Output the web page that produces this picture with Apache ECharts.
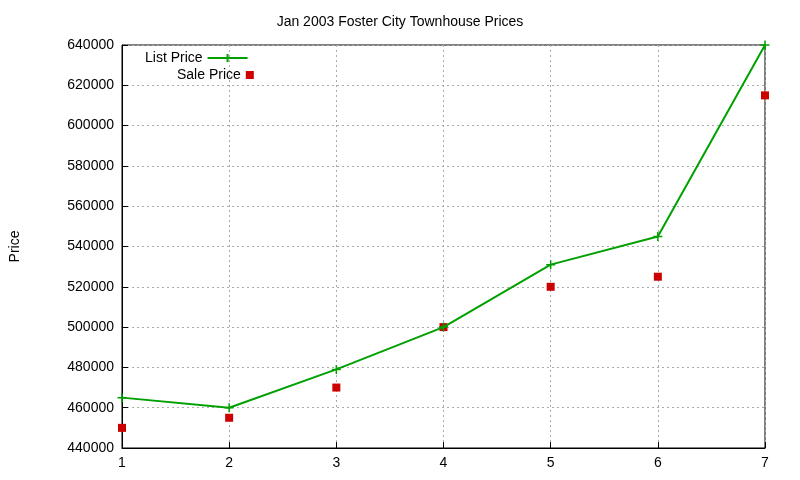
<!DOCTYPE html>
<html><head><meta charset="utf-8">
<script src="https://cdn.jsdelivr.net/npm/echarts@6/dist/echarts.min.js"></script>
<style>html,body{margin:0;padding:0;background:#fff}#c{width:800px;height:480px}</style>
</head><body><div id="c"></div>
<script>
const xs = [1,2,3,4,5,6,7];
const listPrice = [465000,460000,479000,500000,531000,545000,640000];
const salePrice = [450000,455000,470000,500000,520000,525000,615000];
const chart = echarts.init(document.getElementById('c'));
const font = 'Liberation Sans, Arial, sans-serif';
const split = {show:true,lineStyle:{color:'#aaa',type:[2,3],width:1}};
const lt = {fontFamily:font,fontSize:14,color:'#000'};
chart.setOption({
  animation:false,
  title:{text:'Jan 2003 Foster City Townhouse Prices',left:'center',top:10,
    textStyle:{fontFamily:font,fontSize:14,fontWeight:'normal',color:'#000'}},
  legend:[
    {left:140,top:46,align:'right',itemWidth:40,itemHeight:10,textStyle:lt,data:[{name:'List Price'}]},
    {left:172,top:63,align:'right',itemWidth:8,itemHeight:8,textStyle:lt,data:[{name:'Sale Price',icon:'rect'}]}
  ],
  grid:{left:119,right:35,top:45,bottom:32,show:true,borderColor:'#000',borderWidth:1},
  xAxis:{type:'value',min:1,max:7,interval:1,
    axisLine:{lineStyle:{color:'#000'}},axisTick:{inside:true,length:6,lineStyle:{color:'#000'}},
    axisLabel:{fontFamily:font,fontSize:14,color:'#000'},splitLine:split},
  yAxis:{type:'value',min:440000,max:640000,interval:20000,name:'Price',nameLocation:'middle',nameGap:100,
    nameTextStyle:{fontFamily:font,fontSize:14,color:'#000'},
    axisLine:{show:true,lineStyle:{color:'#000'}},axisTick:{show:true,inside:true,length:6,lineStyle:{color:'#000'}},
    axisLabel:{fontFamily:font,fontSize:14,color:'#000',formatter:v=>String(v)},splitLine:split},
  series:[
    {name:'List Price',type:'line',data:xs.map((x,i)=>[x,listPrice[i]]),
     color:'#00a000',lineStyle:{width:2,color:'#00a000'},symbol:'path://M-1,0H1M0,-1V1',symbolSize:9,
     itemStyle:{color:'#00a000',borderColor:'#00a000',borderWidth:1.5}},
    {name:'Sale Price',type:'scatter',data:xs.map((x,i)=>[x,salePrice[i]]),
     color:'#cc0000',symbol:'rect',symbolSize:8,itemStyle:{color:'#cc0000',opacity:1}}
  ]
});
</script></body></html>
